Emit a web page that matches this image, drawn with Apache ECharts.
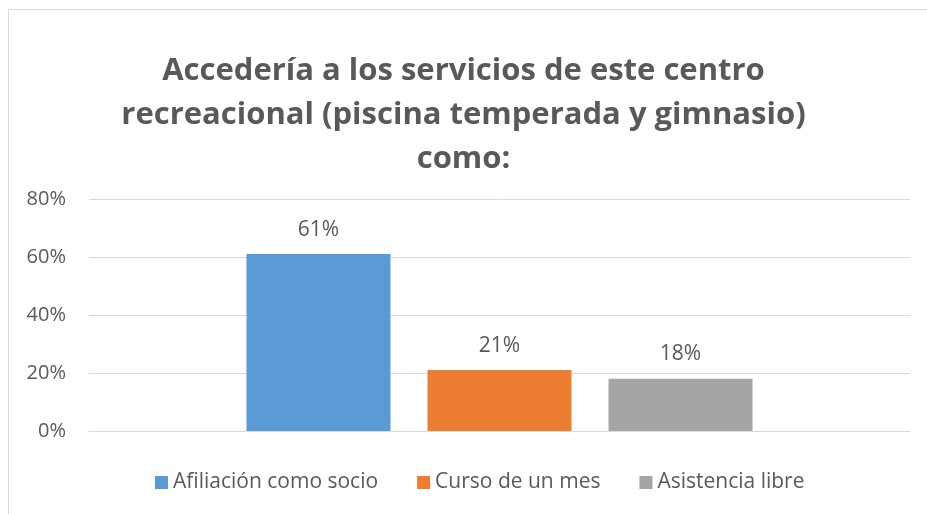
<!DOCTYPE html>
<html lang="es">
<head>
    <meta charset="UTF-8" />
    <title>Accedería a los servicios</title>
    <style>
        html, body {
            margin: 0;
            padding: 0;
            background: #fff;
        }

        #frame {
            position: absolute;
            left: 8px;
            top: 9px;
            width: 940px;
            height: 520px;
            border-left: 1px solid #d9d9d9;
            border-top: 1px solid #d9d9d9;
        }

        #chart {
            position: absolute;
            left: 0;
            top: 0;
            width: 927px;
            height: 514px;
        }
    </style>
    <script src="https://cdn.jsdelivr.net/npm/echarts@6/dist/echarts.min.js"></script>
</head>
<body>
    <div id="frame"></div>
    <div id="chart"></div>
    <script>
        // datos
        var seriesNames = ['Afiliación como socio', 'Curso de un mes', 'Asistencia libre']
        var seriesValues = [61, 21, 18]
        var seriesColors = ['#5b9bd5', '#ed7d31', '#a5a5a5']
        var yTicks = [0, 20, 40, 60, 80]

        var font = '"Open Sans", Lato, sans-serif'
        var textColor = '#595959'

        var series = []
        for (var i = 0; i < seriesNames.length; i++) {
            series.push({
                name: seriesNames[i],
                type: 'bar',
                data: [seriesValues[i]],
                barWidth: 144,
                barGap: '25.7%',
                itemStyle: { color: seriesColors[i] },
                label: {
                    show: true,
                    position: 'top',
                    distance: 14,
                    formatter: '{c}%',
                    color: textColor,
                    fontFamily: font,
                    fontSize: 21
                }
            })
        }

        var myChart = echarts.init(document.getElementById('chart'))
        var option = {
            animation: false,
            title: {
                text: 'Accedería a los servicios de este centro\nrecreacional (piscina temperada y gimnasio)\ncomo:',
                left: 'center',
                top: 44,
                textStyle: {
                    fontFamily: font,
                    fontSize: 31,
                    fontWeight: 'bold',
                    color: textColor,
                    lineHeight: 44
                }
            },
            legend: {
                bottom: 16,
                left: 150,
                itemWidth: 13,
                itemHeight: 13,
                itemGap: 39,
                icon: 'rect',
                textStyle: {
                    fontFamily: font,
                    fontSize: 21,
                    color: textColor
                },
                data: seriesNames
            },
            grid: {
                left: 89,
                right: 17,
                top: 199,
                bottom: 83,
                containLabel: false
            },
            xAxis: {
                type: 'category',
                data: [''],
                axisLine: { lineStyle: { color: '#d9d9d9' } },
                axisTick: { show: false },
                axisLabel: { show: false }
            },
            yAxis: {
                type: 'value',
                min: yTicks[0],
                max: yTicks[yTicks.length - 1],
                interval: 20,
                axisLine: { show: false },
                axisTick: { show: false },
                splitLine: { lineStyle: { color: '#d9d9d9', width: 1 } },
                axisLabel: {
                    formatter: '{value}%',
                    margin: 23,
                    color: textColor,
                    fontFamily: font,
                    fontSize: 20
                }
            },
            series: series
        }
        myChart.setOption(option)
    </script>
</body>
</html>
